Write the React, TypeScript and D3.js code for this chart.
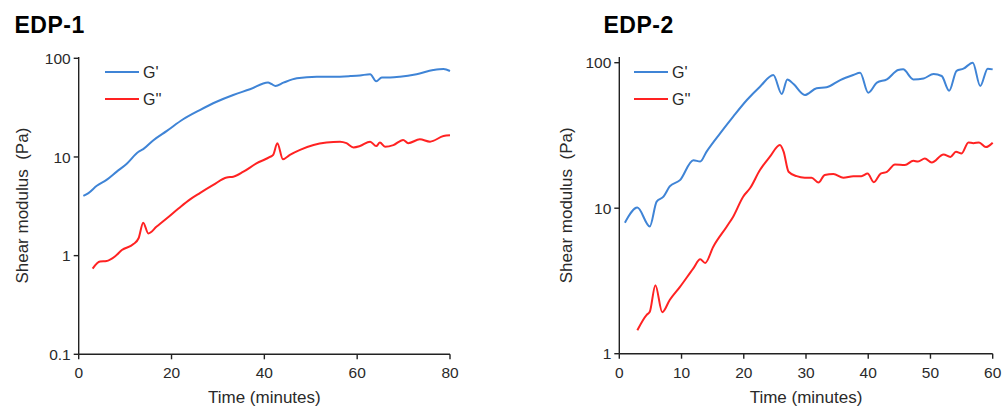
import React from "react";
import * as d3 from "d3";

// EDP-1 data
const edp1GpTime = [1, 2.1, 3.9, 6, 8.2, 10.3, 12.9, 13.9, 16.1, 19, 22.5, 26.1, 29.7, 33.3, 36.9, 40.8, 41.5, 42.4, 44.1, 47, 51.3, 54.9, 58.5, 60.6, 62.8, 64.1, 65.3, 67.1, 69.2, 72.8, 76.4, 78.6, 80];
const edp1Gp = [4.03, 4.3, 5.1, 5.85, 7.1, 8.5, 11.3, 12, 14.8, 18.4, 24.1, 29.9, 36.3, 42.5, 48.5, 57, 55, 52.5, 56.6, 62.7, 65, 65, 66, 67, 69, 58.5, 64, 64, 65, 69, 76, 78, 74.4];
const edp1GppTime = [3, 4.6, 6, 7.8, 9.3, 11.8, 12.9, 13.9, 15, 16.8, 19, 21.5, 24, 26.1, 29, 31.9, 33.3, 35.5, 38.3, 41.2, 41.9, 42.8, 44, 45.5, 47.7, 50.6, 53.4, 56.3, 57.7, 59.2, 60.6, 62.8, 64.1, 64.9, 66, 67.8, 69.9, 71, 73.5, 75.7, 78.6, 80];
const edp1Gpp = [0.74, 0.87, 0.88, 0.98, 1.14, 1.31, 1.5, 2.16, 1.68, 1.97, 2.39, 3.0, 3.72, 4.3, 5.2, 6.2, 6.3, 7.1, 8.6, 10, 10.5, 13.8, 9.5, 10.5, 11.8, 13.2, 14, 14.3, 13.8, 12.5, 12.9, 14.3, 12.9, 14, 12.7, 13.2, 14.9, 13.8, 15.1, 14.3, 16.3, 16.6];

// EDP-2 data
const edp2GpTime = [0.9, 2.9, 4.9, 6, 7.1, 8.1, 9.75, 11.9, 13, 14, 16.2, 18.3, 20.5, 22.6, 24.75, 26.1, 27, 28, 29.8, 31.7, 33.3, 35.5, 37.6, 38.7, 40, 41.4, 43, 44.8, 45.6, 47.25, 48.9, 50.5, 51.8, 53, 54.2, 55.3, 56.8, 58, 59.2, 60];
const edp2Gp = [7.95, 10.1, 7.5, 11.1, 12, 14.1, 15.6, 21.4, 20.9, 24.4, 32.7, 42.6, 55.4, 68.4, 82.3, 61, 76.8, 71.3, 60, 66.7, 67.7, 76, 82.3, 85.3, 62.2, 73, 76.8, 89, 90, 76.8, 78, 83.6, 81, 64.2, 88, 91, 100, 69.2, 91, 90];
const edp2GppTime = [2.9, 4.4, 4.9, 5.8, 6.9, 8.1, 9.75, 11.9, 13, 13.8, 15.1, 17.25, 18.3, 19.9, 21, 22.6, 24.2, 25.8, 26.4, 27.2, 28.5, 29.8, 30.9, 32, 33, 34.4, 36, 37.6, 38.9, 39.9, 40.9, 42, 43, 44.3, 45.9, 47.25, 48, 49.1, 50.2, 52.1, 53.2, 54.1, 55, 56.1, 56.9, 57.8, 58.9, 60];
const edp2Gpp = [1.45, 1.85, 1.94, 2.96, 1.93, 2.34, 2.88, 3.86, 4.45, 4.2, 5.44, 7.46, 8.75, 12, 13.7, 18.3, 22.6, 27.2, 24.5, 17.8, 16.6, 16.2, 16.2, 15, 16.9, 17.2, 16.2, 16.6, 16.6, 17.3, 15.1, 17.3, 17.8, 20, 19.8, 21.2, 20.9, 22, 20.6, 23.4, 22.5, 24.4, 23.8, 28.3, 28, 28.3, 26.3, 28.2];

const edp1XTicks = [0, 20, 40, 60, 80];
const edp1YTicks = [0.1, 1, 10, 100];
const edp2XTicks = [0, 10, 20, 30, 40, 50, 60];
const edp2YTicks = [1, 10, 100];
const seriesNames = ["G'", "G''"];

const BLUE = "#3f84d6";
const RED = "#ff2222";
const FONT = "'Liberation Sans', Arial, sans-serif";
const TXT = "#2a2a2a";

type PanelProps = {
  title: string;
  titleX: number;
  x0: number; x1: number; y0: number; y1: number;
  xDomain: [number, number];
  yDomain: [number, number];
  xTicks: number[];
  yTicks: number[];
  gp: [number[], number[]];
  gpp: [number[], number[]];
  yLabelX: number;
  axisTop: number;
  legendX: number;
};

function Panel(p: PanelProps) {
  const x = d3.scaleLinear().domain(p.xDomain).range([p.x0, p.x1]);
  const y = d3.scaleLog().domain(p.yDomain).range([p.y0, p.y1]);
  const line = d3
    .line<[number, number]>()
    .x((d) => x(d[0]))
    .y((d) => y(d[1]))
    .curve(d3.curveMonotoneX);
  const toPts = (s: [number[], number[]]) => s[0].map((t, i) => [t, s[1][i]] as [number, number]);
  const fmt = (v: number) => (v < 1 ? String(v) : d3.format("d")(v));
  const legendY = [p.axisTop + 15, p.axisTop + 42];
  const cols = [BLUE, RED];
  return (
    <g>
      <text x={p.titleX} y={33.3} fontFamily={FONT} fontWeight="bold" fontSize={23} letterSpacing={0.5} fill="#000">
        {p.title}
      </text>
      <path d={line(toPts(p.gp)) || ""} fill="none" stroke={BLUE} strokeWidth={2} />
      <path d={line(toPts(p.gpp)) || ""} fill="none" stroke={RED} strokeWidth={2} />
      {/* axes */}
      <line x1={p.x0} x2={p.x0} y1={p.axisTop} y2={p.y0} stroke="#222" strokeWidth={1.4} />
      <line x1={p.x0} x2={p.x1} y1={p.y0} y2={p.y0} stroke="#222" strokeWidth={1.4} />
      {p.yTicks.map((t) => (
        <g key={"y" + t}>
          <line x1={p.x0 - 5} x2={p.x0} y1={y(t)} y2={y(t)} stroke="#222" strokeWidth={1.4} />
          <text x={p.x0 - 8} y={y(t)} dy="0.36em" textAnchor="end" fontFamily={FONT} fontSize={15.5} fill={TXT}>
            {fmt(t)}
          </text>
        </g>
      ))}
      {p.xTicks.map((t) => (
        <g key={"x" + t}>
          <line x1={x(t)} x2={x(t)} y1={p.y0} y2={p.y0 + 5} stroke="#222" strokeWidth={1.4} />
          <text x={x(t)} y={p.y0 + 24} textAnchor="middle" fontFamily={FONT} fontSize={15.5} fill={TXT}>
            {t}
          </text>
        </g>
      ))}
      <text x={(p.x0 + p.x1) / 2} y={403} textAnchor="middle" fontFamily={FONT} fontSize={17} fill={TXT}>
        Time (minutes)
      </text>
      <text
        transform={`translate(${p.yLabelX},${(p.axisTop + p.y0) / 2}) rotate(-90)`}
        textAnchor="middle"
        dy="0.36em"
        fontFamily={FONT}
        fontSize={17}
        fill={TXT}
        style={{ whiteSpace: "pre" }}
      >
        {"Shear modulus  (Pa)"}
      </text>
      {seriesNames.map((n, i) => (
        <g key={n}>
          <line x1={p.legendX} x2={p.legendX + 34} y1={legendY[i]} y2={legendY[i]} stroke={cols[i]} strokeWidth={2} />
          <text x={p.legendX + 38} y={legendY[i]} dy="0.36em" fontFamily={FONT} fontSize={16} fill={TXT}>
            {n}
          </text>
        </g>
      ))}
    </g>
  );
}

export default function App() {
  return (
    <svg width={1002} height={406} style={{ position: "absolute", left: 0, top: 0, background: "#fff" }}>
      <rect width={1002} height={406} fill="#fff" />
      <Panel
        title="EDP-1"
        titleX={14.5}
        x0={78.7}
        x1={450}
        y0={354.3}
        y1={58.3}
        xDomain={[0, 80]}
        yDomain={[0.1, 100]}
        xTicks={edp1XTicks}
        yTicks={edp1YTicks}
        gp={[edp1GpTime, edp1Gp]}
        gpp={[edp1GppTime, edp1Gpp]}
        yLabelX={22}
        axisTop={57}
        legendX={105}
      />
      <Panel
        title="EDP-2"
        titleX={603.5}
        x0={619.3}
        x1={992.7}
        y0={353.7}
        y1={62.7}
        xDomain={[0, 60]}
        yDomain={[1, 100]}
        xTicks={edp2XTicks}
        yTicks={edp2YTicks}
        gp={[edp2GpTime, edp2Gp]}
        gpp={[edp2GppTime, edp2Gpp]}
        yLabelX={566}
        axisTop={57}
        legendX={634}
      />
    </svg>
  );
}
